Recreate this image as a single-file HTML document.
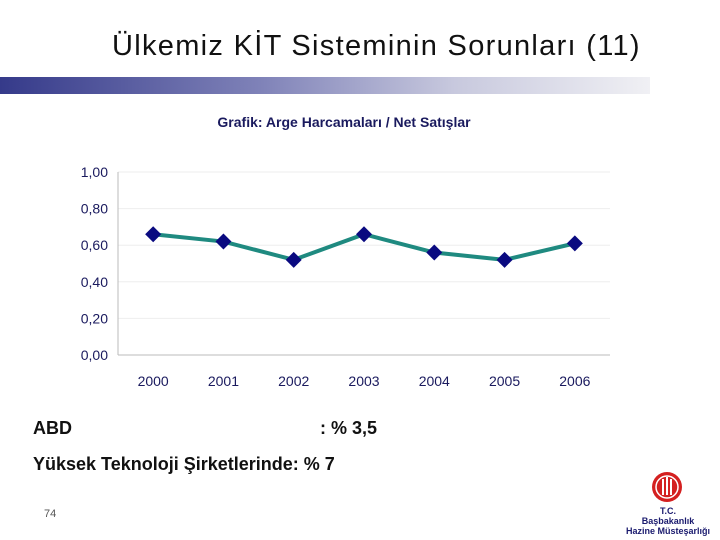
<!DOCTYPE html>
<html><head><meta charset="utf-8"><style>
body{margin:0;width:720px;height:540px;background:#fff;overflow:hidden;font-family:"Liberation Sans",sans-serif;position:relative}
.t{position:absolute}
</style></head><body>
<div class="t" style="left:112px;top:30px;font-size:29px;letter-spacing:1.3px;color:#111;white-space:nowrap">Ülkemiz KİT Sisteminin Sorunları (11)</div>
<div class="t" style="left:0;top:77px;width:650px;height:17px;background:linear-gradient(to right,#353a8a,#7f82b8 40%,#c8c9de 70%,#f0f0f4 100%)"></div>
<svg class="t" style="left:0;top:0" width="720" height="540">
<text x="344" y="127" text-anchor="middle" font-size="14" font-weight="bold" fill="#1a1a5e" font-family="Liberation Sans Narrow,Liberation Sans,sans-serif">Grafik: Arge Harcamaları / Net Satışlar</text>
<g id="g"></g>
</svg>
<div class="t" style="left:33px;top:418px;font-size:18px;font-weight:bold;color:#111">ABD</div>
<div class="t" style="left:320px;top:418px;font-size:18px;font-weight:bold;color:#111">: % 3,5</div>
<div class="t" style="left:33px;top:454px;font-size:18px;font-weight:bold;color:#111">Yüksek Teknoloji Şirketlerinde: % 7</div>
<div class="t" style="left:44px;top:508px;font-size:11px;color:#555">74</div>
<svg class="t" style="left:650px;top:470px" width="34" height="34"><circle cx="17" cy="17" r="15" fill="#d42020"/><circle cx="17" cy="17" r="11" fill="none" stroke="#fff" stroke-width="1.5"/><rect x="12" y="9" width="2" height="16" fill="#fff"/><rect x="16" y="7" width="2" height="18" fill="#fff"/><rect x="20" y="9" width="2" height="16" fill="#fff"/></svg>
<div class="t" style="left:610px;top:506px;width:116px;text-align:center;font-size:9px;font-weight:bold;color:#1a1a6e;line-height:10px">T.C.<br>Başbakanlık<br>Hazine Müsteşarlığı</div>
<script>
const categories=["2000","2001","2002","2003","2004","2005","2006"];
const values=[0.66,0.62,0.52,0.66,0.56,0.52,0.61];
const ticks=[0,0.2,0.4,0.6,0.8,1.0];
const tickLabels=["0,00","0,20","0,40","0,60","0,80","1,00"];
const L=118,R=610,T=172,B=355;
const x=i=>L+(R-L)/categories.length*(i+0.5);
const y=v=>B-(B-T)*v;
const g=document.getElementById('g');const NS='http://www.w3.org/2000/svg';
function mk(t,a){const e=document.createElementNS(NS,t);for(const k in a)e.setAttribute(k,a[k]);g.appendChild(e);return e;}
ticks.forEach((v,i)=>{
 const l=mk('line',{x1:L,x2:R,y1:y(v),y2:y(v),stroke:i?'#eeeeee':'#bbbbbb'});
 
 
 const t=mk('text',{x:108,y:y(v)+5,'text-anchor':'end','font-size':14,fill:'#1a1a5e'});t.textContent=tickLabels[i];
 
 
});
const ax=mk('line',{x1:L,x2:L,y1:T,y2:B,stroke:'#bbbbbb'});


categories.forEach((c,i)=>{const t=mk('text',{x:x(i),y:386,'text-anchor':'middle','font-size':14,fill:'#1a1a5e'});t.textContent=c;
 
 });
const p=mk('polyline',{points:values.map((v,i)=>x(i)+','+y(v)).join(' '),fill:'none',stroke:'#1f8a80','stroke-width':4});


values.forEach((v,i)=>{const cx=x(i),cy=y(v);const d=mk('polygon',{points:`${cx},${cy-8} ${cx+8},${cy} ${cx},${cy+8} ${cx-8},${cy}`,fill:'#0a0a80'});
 
 });
</script>
</body></html>
